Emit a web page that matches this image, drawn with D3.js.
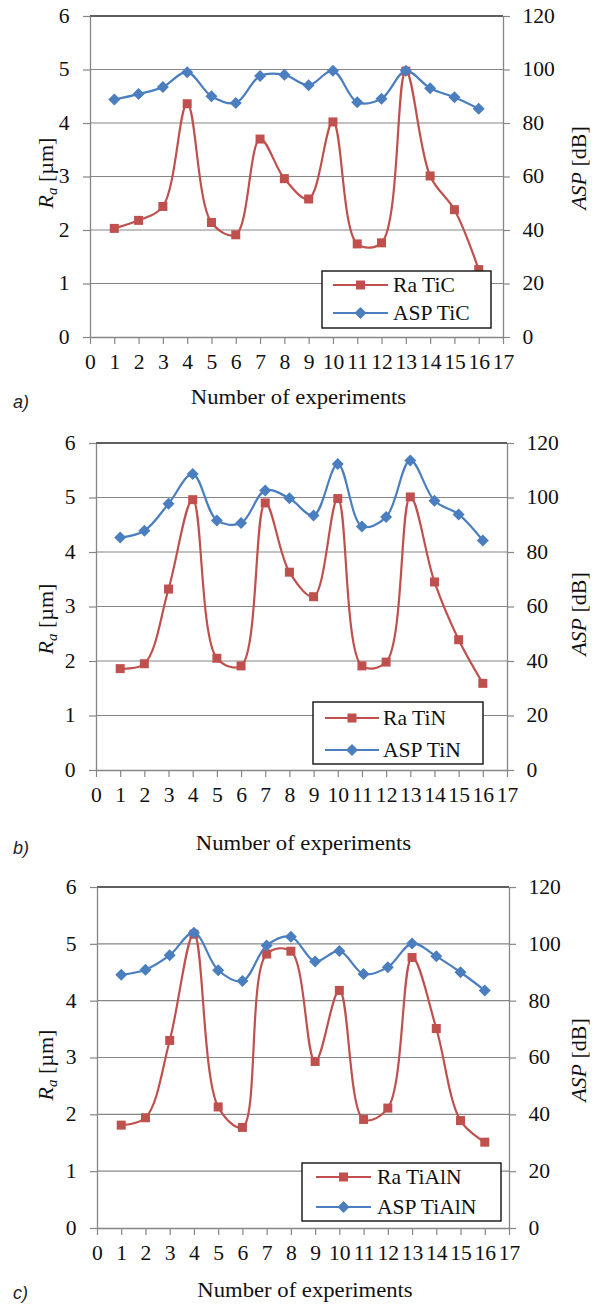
<!DOCTYPE html>
<html>
<head>
<meta charset="utf-8">
<script src="https://cdn.jsdelivr.net/npm/d3@7"></script>
<style>
body { margin: 0; background: #fff; }
svg { display: block; }
</style>
</head>
<body>
<svg width="598" height="1304"></svg>
<script>
// values
var experiments = [1, 2, 3, 4, 5, 6, 7, 8, 9, 10, 11, 12, 13, 14, 15, 16];
var xTicks = [0, 1, 2, 3, 4, 5, 6, 7, 8, 9, 10, 11, 12, 13, 14, 15, 16, 17];
var raTicks = [0, 1, 2, 3, 4, 5, 6];
var aspTicks = [0, 20, 40, 60, 80, 100, 120];

var raTiC = [2.03, 2.18, 2.44, 4.36, 2.14, 1.91, 3.70, 2.96, 2.58, 4.02, 1.74, 1.76, 4.97, 3.01, 2.38, 1.26];
var aspTiC = [88.8, 90.8, 93.5, 99.0, 90.0, 87.5, 97.6, 98.0, 94.1, 99.5, 87.8, 89.1, 99.5, 93.0, 89.6, 85.3];

var raTiN = [1.86, 1.95, 3.32, 4.96, 2.05, 1.91, 4.90, 3.63, 3.18, 4.98, 1.91, 1.98, 5.01, 3.45, 2.39, 1.59];
var aspTiN = [85.3, 87.8, 97.7, 108.6, 91.6, 90.6, 102.6, 99.7, 93.4, 112.3, 89.4, 92.8, 113.6, 98.8, 93.8, 84.2];

var raTiAlN = [1.81, 1.94, 3.30, 5.17, 2.13, 1.77, 4.82, 4.87, 2.93, 4.18, 1.91, 2.11, 4.76, 3.51, 1.89, 1.51];
var aspTiAlN = [89.1, 90.9, 96.0, 103.9, 90.7, 86.9, 99.4, 102.5, 93.8, 97.5, 89.4, 91.8, 100.1, 95.6, 90.0, 83.6];

var red = "#C0504D", blue = "#4A7EBF", grey = "#868686";
var serif = "Liberation Serif";
var sx = 1.08; // the figure's text is a little wide

var panels = [
    { tag: "a)", coat: "TiC", ra: raTiC, asp: aspTiC,
      left: 90, right: 503, top: 16, bottom: 337, titleY: 397, tagY: 402,
      yl: 173, yr: 168,
      leg: { x0: 322, x1: 491, y0: 271, y1: 328, l0: 333, l1: 388, tx: 393, r1: 285, r2: 313 } },
    { tag: "b)", coat: "TiN", ra: raTiN, asp: aspTiN,
      left: 96, right: 507, top: 443, bottom: 770, titleY: 843, tagY: 848,
      yl: 619, yr: 614,
      leg: { x0: 313, x1: 483, y0: 702, y1: 764, l0: 325, l1: 379, tx: 383, r1: 718, r2: 750 } },
    { tag: "c)", coat: "TiAlN", ra: raTiAlN, asp: aspTiAlN,
      left: 97, right: 509, top: 887, bottom: 1228, titleY: 1290, tagY: 1293,
      yl: 1065, yr: 1060,
      leg: { x0: 302, x1: 501, y0: 1163, y1: 1221, l0: 316, l1: 371, tx: 377, r1: 1177, r2: 1207 } }
];

var svg = d3.select("svg");

var diamond = "M0,-6L6,0L0,6L-6,0Z";

panels.forEach(function (p) {
    var g = svg.append("g");

    var x = d3.scaleLinear().domain([0, 17]).range([p.left, p.right]);
    var yL = d3.scaleLinear().domain([0, 6]).range([p.bottom, p.top]);
    var yR = d3.scaleLinear().domain([0, 120]).range([p.bottom, p.top]);

    // horizontal gridlines
    g.append("g").selectAll("line")
        .data(raTicks.slice(1))
        .enter().append("line")
        .attr("x1", p.left).attr("x2", p.right)
        .attr("y1", function (d) { return yL(d); })
        .attr("y2", function (d) { return yL(d); })
        .attr("stroke", function (d) { return d === 6 ? "#2a2a2a" : grey; })
        .attr("stroke-width", function (d) { return d === 6 ? 1.4 : 1.1; });

    // axes
    var ax = g.append("g")
        .attr("transform", "translate(0," + p.bottom + ")")
        .call(d3.axisBottom(x).tickValues(xTicks).tickFormat(d3.format("d"))
            .tickSizeInner(7).tickSizeOuter(0).tickPadding(11));
    var al = g.append("g")
        .attr("transform", "translate(" + p.left + ",0)")
        .call(d3.axisLeft(yL).tickValues(raTicks).tickFormat(d3.format("d"))
            .tickSizeInner(7).tickSizeOuter(0).tickPadding(12));
    var ar = g.append("g")
        .attr("transform", "translate(" + p.right + ",0)")
        .call(d3.axisRight(yR).tickValues(aspTicks).tickFormat(d3.format("d"))
            .tickSizeInner(7).tickSizeOuter(0).tickPadding(11));

    [ax, al, ar].forEach(function (a) {
        a.attr("font-family", serif).attr("font-size", 20);
        a.select(".domain").attr("stroke", grey).attr("stroke-width", 1.3);
        a.selectAll(".tick line").attr("stroke", grey).attr("stroke-width", 1.2);
        a.selectAll(".tick text")
            .attr("font-family", serif)
            .attr("fill", "#111")
            .attr("transform", "scale(" + sx + ",1)");
    });

    // series
    var line = d3.line()
        .x(function (d, i) { return x(experiments[i]); })
        .curve(d3.curveCatmullRom.alpha(0.5));

    g.append("path")
        .attr("d", line.y(function (d) { return yL(d); })(p.ra))
        .attr("fill", "none").attr("stroke", red).attr("stroke-width", 2.2);
    g.append("g").selectAll("rect")
        .data(p.ra)
        .enter().append("rect")
        .attr("x", function (d, i) { return x(experiments[i]) - 4.5; })
        .attr("y", function (d) { return yL(d) - 4.5; })
        .attr("width", 9).attr("height", 9)
        .attr("fill", red);

    g.append("path")
        .attr("d", line.y(function (d) { return yR(d); })(p.asp))
        .attr("fill", "none").attr("stroke", blue).attr("stroke-width", 2.2);
    g.append("g").selectAll("path")
        .data(p.asp)
        .enter().append("path")
        .attr("d", diamond)
        .attr("transform", function (d, i) { return "translate(" + x(experiments[i]) + "," + yR(d) + ")"; })
        .attr("fill", blue);

    // legend
    var L = p.leg;
    var lg = g.append("g");
    lg.append("rect")
        .attr("x", L.x0).attr("y", L.y0)
        .attr("width", L.x1 - L.x0).attr("height", L.y1 - L.y0)
        .attr("fill", "#fff").attr("stroke", "#111").attr("stroke-width", 1.4);
    var items = [
        { name: "Ra " + p.coat, color: red, y: L.r1, square: true },
        { name: "ASP " + p.coat, color: blue, y: L.r2, square: false }
    ];
    items.forEach(function (it) {
        lg.append("line")
            .attr("x1", L.l0).attr("x2", L.l1).attr("y1", it.y).attr("y2", it.y)
            .attr("stroke", it.color).attr("stroke-width", 2.2);
        var mx = (L.l0 + L.l1) / 2;
        if (it.square) {
            lg.append("rect").attr("x", mx - 4.5).attr("y", it.y - 4.5)
                .attr("width", 9).attr("height", 9).attr("fill", it.color);
        } else {
            lg.append("path").attr("d", diamond)
                .attr("transform", "translate(" + mx + "," + it.y + ")")
                .attr("fill", it.color);
        }
        lg.append("text")
            .attr("transform", "translate(" + L.tx + "," + it.y + ") scale(" + sx + ",1)")
            .attr("dy", "0.35em")
            .attr("font-family", serif)
            .attr("font-size", 20)
            .attr("fill", "#111")
            .text(it.name);
    });

    // axis titles
    g.append("text")
        .attr("transform", "translate(" + ((p.left + p.right) / 2 + 2) + "," + p.titleY + ") scale(" + sx + ",1)")
        .attr("text-anchor", "middle").attr("dy", "0.35em")
        .attr("font-family", serif)
        .attr("font-size", 21)
        .attr("fill", "#111")
        .text("Number of experiments");

    var tl = g.append("text")
        .attr("transform", "translate(45," + p.yl + ") rotate(-90)")
        .attr("text-anchor", "middle").attr("dy", "0.35em")
        .attr("font-family", serif)
        .attr("font-size", 22)
        .attr("fill", "#111");
    tl.append("tspan").attr("font-style", "italic").text("R");
    tl.append("tspan").attr("font-style", "italic").attr("font-size", 15).attr("dy", 4).text("a");
    tl.append("tspan").attr("dy", -4).text(" [\u00b5m]");

    var tr = g.append("text")
        .attr("transform", "translate(578," + p.yr + ") rotate(-90)")
        .attr("text-anchor", "middle").attr("dy", "0.35em")
        .attr("font-family", serif)
        .attr("font-size", 22)
        .attr("fill", "#111");
    tr.append("tspan").attr("font-style", "italic").text("ASP");
    tr.append("tspan").text(" [dB]");

    // panel tag
    g.append("text")
        .attr("x", 13).attr("y", p.tagY).attr("dy", "0.35em")
        .attr("font-family", "Liberation Sans")
        .attr("font-style", "italic")
        .attr("font-size", 18)
        .attr("fill", "#222")
        .text(p.tag);
});
</script>
</body>
</html>
